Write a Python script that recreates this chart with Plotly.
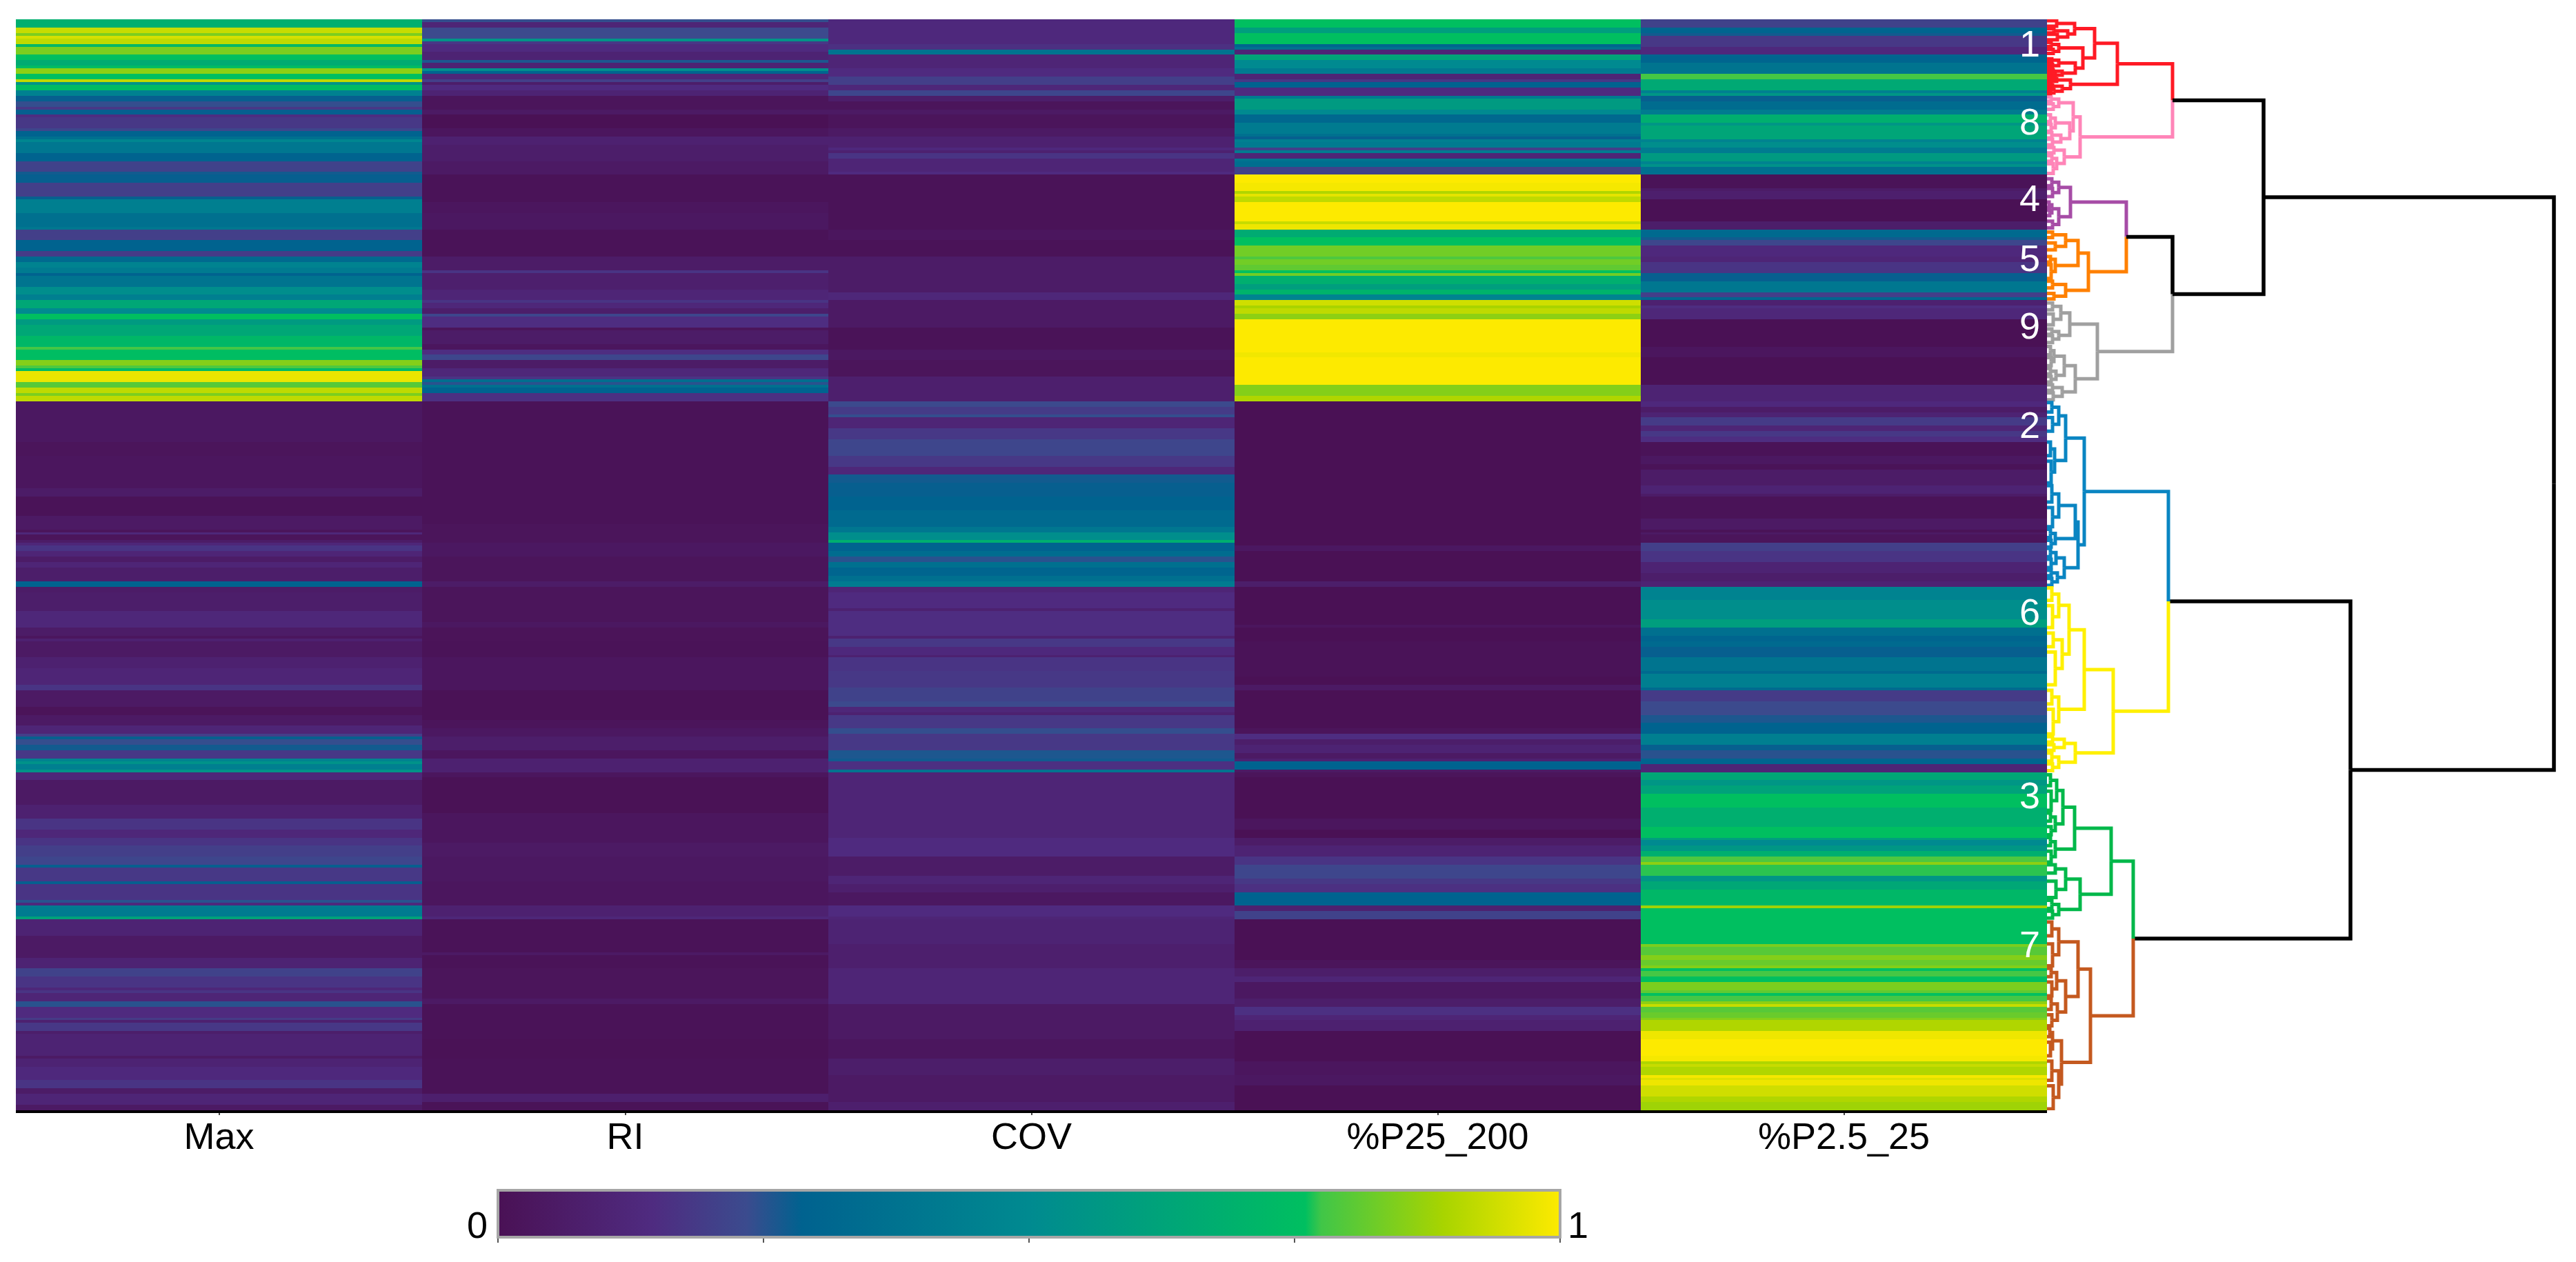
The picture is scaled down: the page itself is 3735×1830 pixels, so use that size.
import plotly.graph_objects as go

W, H = 3735, 1830
N_ROWS = 400
columns = ["Max", "RI", "COV", "%P25_200", "%P2.5_25"]

# each column: (value, row at which this value stops), read from top to bottom
max_runs = [(.68,3),(.93,5),(.84,6),(.95,7),(.92,9),(.72,10),(.84,13),(.76,15),(.66,17),(.74,18),(.86,20),(.76,22),(.92,23),(.55,24),(.74,26),(.45,28),(.28,30),(.24,32),(.18,33),(.28,35),(.15,36),(.18,40),(.22,41),(.29,43),(.36,44),(.48,45),(.40,49),(.29,52),(.21,56),(.27,57),(.28,60),(.20,65),(.28,66),(.44,71),(.36,76),(.40,77),(.2,81),(.29,85),(.19,87),(.33,89),(.46,91),(.42,93),(.29,94),(.38,98),(.52,101),(.44,103),(.64,106),(.5,108),(.76,110),(.58,112),(.64,116),(.72,120),(.78,121),(.75,125),(.85,127),(.79,128),(.74,129),(.975,133),(.8,135),(.92,137),(.84,138),(.92,140),
 (.04,155),(.02,160),(.03,172),(.06,175),(.01,182),(.05,187),(.02,188),(.12,189),(.02,191),(.06,192),(.12,193),(.17,195),(.11,197),(.06,199),(.11,201),(.07,206),(.29,208),(.06,210),(.07,217),(.12,223),(.06,226),(.03,227),(.09,228),
 (.05,234),(.09,238),(.11,244),(.17,246),(.05,252),(.015,255),(.05,259),(.11,262),(.2,263),(.28,264),(.24,266),(.27,268),(.18,271),(.46,272),(.54,273),(.44,275),(.55,276),(.12,279),(.05,288),(.09,293),(.17,297),(.12,300),(.17,303),(.2,307),(.22,310),(.28,311),(.18,316),(.28,317),(.17,323),(.25,324),(.13,325),(.42,329),(.62,330),(.1,336),(.05,344),(.1,348),(.21,351),(.17,355),(.12,356),(.17,357),(.11,360),(.25,362),(.14,366),(.19,367),(.09,368),(.18,371),(.07,372),(.1,380),(.05,381),(.1,384),(.13,389),(.17,392),(.06,394),(.11,398),(.05,400)]

ri_runs = [(.24,1),(.11,3),(.23,7),(.55,8),(.18,9),(.14,12),(.1,15),(.26,16),(.1,18),(.52,19),(.3,20),(.12,22),(.2,23),(.07,24),(.14,26),(.1,28),(.02,33),(.05,35),(.0,40),(.03,43),(.09,46),(.07,52),(.05,57),(.01,67),(.03,71),(.04,77),(.01,87),(.06,92),(.17,93),(.08,99),(.11,103),(.17,104),(.12,106),(.07,108),(.22,109),(.15,113),(.02,114),(.06,119),(.03,121),(.15,123),(.22,125),(.06,128),(.12,131),(.17,132),(.35,133),(.25,134),(.36,135),(.29,137),(.16,140),
 (.01,185),(.02,192),(.04,197),(.02,206),(.06,208),(.02,221),(.04,223),(.015,228),
 (.01,234),(.03,246),(.005,257),(.02,260),(.04,263),(.07,268),(.03,271),(.09,276),(.03,278),(.005,291),(.03,302),(.05,307),(.04,316),(.03,325),(.09,329),(.12,330),(.01,342),(.05,343),(.01,348),(.02,359),(.05,361),(.01,374),(.005,381),(.01,394),(.08,397),(.01,400)]

cov_runs = [(.13,9),(.16,11),(.38,13),(.11,18),(.14,21),(.20,24),(.12,26),(.22,28),(.07,30),(.02,33),(.05,35),(.02,40),(.05,43),(.09,47),(.13,48),(.09,49),(.17,51),(.11,56),(.14,57),(.01,77),(.03,81),(.01,87),(.06,100),(.12,103),(.05,113),(.01,121),(.04,125),(.02,131),(.08,140),
 (.23,142),(.19,145),(.24,146),(.11,150),(.18,154),(.22,160),(.18,164),(.12,167),(.27,170),(.28,175),(.29,180),(.33,186),(.40,188),(.52,191),(.68,192),(.29,195),(.34,197),(.25,199),(.36,201),(.3,204),(.36,206),(.42,208),(.11,210),(.14,216),(.09,217),(.15,226),(.09,227),(.18,228),
 (.18,230),(.13,233),(.09,234),(.17,239),(.18,245),(.21,250),(.23,252),(.12,254),(.09,255),(.18,260),(.24,262),(.18,268),(.26,271),(.27,272),(.16,275),(.38,276),(.11,300),(.14,307),(.06,314),(.11,317),(.08,320),(.04,325),(.14,329),(.11,330),(.1,339),(.08,348),(.11,361),(.05,374),(.03,381),(.07,387),(.05,397),(.08,400)]

p25_runs = [(.76,3),(.6,5),(.76,9),(.3,10),(.36,11),(.11,13),(.63,15),(.5,18),(.42,20),(.11,22),(.18,23),(.29,25),(.14,28),(.42,29),(.58,33),(.5,35),(.32,38),(.42,42),(.36,43),(.28,44),(.44,45),(.42,47),(.2,48),(.42,49),(.11,51),(.38,52),(.35,54),(.21,57),(1.0,60),(.99,63),(.9,64),(.97,65),(.92,67),(1.0,74),(.93,75),(.98,77),(.66,80),(.76,83),(.83,87),(.79,88),(.83,90),(.81,92),(.76,93),(.83,94),(.68,97),(.6,99),(.7,101),(.46,103),(.94,105),(.89,106),(.92,108),(.86,110),(1.0,122),(.985,124),(1.0,134),(.85,138),(.9,140),
 (.0,193),(.04,195),(.0,206),(.07,208),(.0,222),(.03,223),(.0,228),
 (.01,241),(.0,244),(.05,246),(.0,260),(.02,262),(.15,264),(.07,266),(.1,269),(.05,271),(.09,272),(.29,275),(.05,276),(.02,278),(.0,293),(.03,297),(.0,300),(.06,303),(.1,307),(.17,310),(.22,315),(.18,317),(.16,320),(.29,325),(.09,327),(.21,330),(.0,345),(.02,348),(.07,351),(.11,353),(.04,359),(.07,362),(.16,365),(.11,367),(.09,371),(.0,382),(.03,387),(.04,391),(.0,400)]

p2_runs = [(.21,3),(.3,5),(.27,6),(.18,10),(.13,13),(.3,16),(.38,20),(.78,22),(.65,26),(.45,27),(.56,28),(.28,30),(.34,33),(.42,35),(.68,38),(.56,39),(.63,44),(.46,45),(.52,47),(.42,49),(.58,52),(.46,53),(.54,54),(.36,57),(.01,62),(.06,63),(.08,66),(.0,74),(.07,77),(.33,80),(.27,81),(.22,83),(.13,87),(.11,89),(.17,93),(.28,96),(.4,100),(.2,102),(.3,103),(.09,105),(.15,106),(.12,110),(.0,120),(.03,124),(.0,134),(.1,140),
 (.13,142),(.06,144),(.1,146),(.19,149),(.11,151),(.18,153),(.15,155),(.01,160),(.04,163),(.01,165),(.06,171),(.1,174),(.06,175),(.01,183),(.05,187),(.01,188),(.05,189),(.02,192),(.2,195),(.17,199),(.1,203),(.07,206),(.1,208),(.46,213),(.52,220),(.6,223),(.36,226),(.3,228),
 (.33,230),(.28,234),(.38,239),(.33,240),(.44,245),(.33,246),(.19,250),(.23,255),(.26,258),(.29,262),(.44,266),(.28,268),(.25,271),(.3,273),(.11,276),(.64,279),(.56,281),(.62,284),(.76,289),(.68,296),(.76,300),(.6,301),(.5,303),(.56,305),(.68,307),(.79,309),(.86,310),(.77,314),(.56,316),(.64,319),(.72,325),(.88,326),(.76,339),(.84,340),(.8,343),(.85,345),(.82,347),(.85,348),(.76,349),(.78,351),(.76,353),(.84,356),(.81,357),(.76,358),(.78,360),(.86,361),(.93,362),(.8,364),(.82,366),(.85,367),(.9,371),(.98,374),(1.0,380),(.99,382),(.9,383),(.93,384),(.9,387),(.99,388),(.96,389),(.98,391),(.94,395),(.9,397),(.88,400)]

# dendrogram: (merge height, upper child, lower child); a bare number is a leaf row
red = (102,
       (69,
        (40, (14, .5, 2.5), (30, (10, 3.5, 5), (15, 5.5, 7.5))),
        (52, (17, (6, 8.5, 10), (9, 11, 12.5)),
         (41, (17, (7, 14.5, 15.5), (8, 16.5, 17.5)), (22, (9, 18.5, 19.5), (12, 20, 21))))),
       (34, (14, (5, 21.5, 22), (6, 22.5, 23)), (22, (8, 24, 25), (10, (4, 25.5, 26), (5, 26.5, 27.5)))))
pink = (48,
        (38, (17, (6, 28.5, 30), (9, 31, 33)),
         (33, (12, (5, 35, 37.5), (6, 38.5, 41)), (20, (7, 41.5, 43.5), (8, 44, 46)))),
        (25, (10, 47, 49), (14, (7, 50, 52), (9, 53, 56.5))))
purple = (34,
          (17, (7, 58.5, 61), (8, 62, 65)),
          (17, (7, (3, 67, 69), (4, 70, 72)), (8, 74, 76.5)))
orange = (60,
          (45, (27, (8, 78, 80), (12, 82, 84.5)), (12, (5, 87, 89), (6, 90, 95))),
          (27, (8, 96, 98.5), (10, 100.5, 102.5)))
grey = (73,
        (33, (20, (8, 104, 106.5), (9, 108, 112)), (17, (7, 113.5, 115.5), (8, 116, 118.5))),
        (41, (25, (10, (5, 120, 123), (6, 124, 127)), (13, (5, 128, 130), (6, 131, 133))),
         (22, (8, 134, 136), (9, 137, 139.5))))
blue = (54,
        (27, (17, (7, 140.5, 144), (8, 146, 151)), (11, (5, 155, 160), (6, 162, 170))),
        (45, (41, (17, (7, 171, 177), (8, 179, 186)), (12, (5, 187, 190), (6, 191, 193.5))),
         (25, (13, (5, 194, 197), (6, 198, 201)), (15, (6, 202, 204), (7, 205, 207.5)))))
yellow = (96,
          (54, (32, (17, (7, 208.5, 213), (8, 215, 223)), (22, (9, 225, 230), (12, 232, 244))),
           (17, (7, 246, 251), (9, 253, 262))),
          (41, (25, (8, 263, 265), (10, 266, 268)), (17, (7, 269, 272), (8, 273, 275.5))))
green = (93,
         (40, (23, (14, (5, 277, 281), (6, 283, 290)), (12, (5, 291, 294), (6, 296, 299))),
          (12, (5, 300, 303), (6, 305, 309))),
         (48, (27, (12, 310, 313), (13, 316, 322)), (17, (7, 323, 326), (8, 327, 329.5))))
brown = (63,
         (45, (17, (7, 331, 336), (8, 339, 347)),
          (27, (14, (6, 348, 351), (7, 353, 358)), (15, (6, 359, 363), (7, 365, 369)))),
         (21, (8, (4, 370, 373), (5, 375, 380)), (17, (7, 382, 389), (9, 391, 399.5))))

tree = (735,
        (314,
         (182, ("#ff1a25", red), ("#ff85b8", pink)),
         (182, (115, ("#a64ca6", purple), ("#ff8000", orange)), ("#a0a0a0", grey))),
        (440,
         (176, ("#0a85c2", blue), ("#fff000", yellow)),
         (125, ("#00b84a", green), ("#c4591f", brown))))

cluster_labels = ["1", "8", "4", "5", "9", "2", "6", "3", "7"]
cluster_label_rows = [8.9, 37.4, 65.5, 87.5, 112.3, 148.7, 217.2, 284.5, 339]

colorscale = [[0, "#4a1155"], [.145, "#4f2b80"], [.234, "#3b4b8e"], [.286, "#00628f"],
              [.5, "#008a90"], [.76, "#00bf60"], [.775, "#40c648"], [.89, "#a8d400"], [1, "#fdea00"]]


def expand(runs):
    out, start = [], 0
    for value, end in runs:
        out += [value] * (end - start)
        start = end
    assert start == N_ROWS
    return out


cols = [expand(r) for r in (max_runs, ri_runs, cov_runs, p25_runs, p2_runs)]
z = [list(row) for row in zip(*cols)]
row_centres = [i + .5 for i in range(N_ROWS)]

segments = {}


def walk(node, colour):
    if isinstance(node, (int, float)):
        return node, 0, colour
    if isinstance(node[0], str):
        return walk(node[1], node[0])
    height, upper, lower = node
    uy, uh, uc = walk(upper, colour)
    ly, lh, lc = walk(lower, colour)
    mid = (uy + ly) / 2
    for y, h, c in ((uy, uh, uc), (ly, lh, lc)):
        xs, ys = segments.setdefault(c, ([], []))
        xs += [height, height, h, None]
        ys += [mid, y, y, None]
    return mid, height, colour


walk(tree, "#000000")

fig = go.Figure()
fig.add_trace(go.Heatmap(
    z=z, x=columns, y=row_centres, zmin=0, zmax=1, colorscale=colorscale, hoverinfo="skip",
    colorbar=dict(orientation="h", xref="container", yref="container",
                  x=1492 / W, xanchor="center", y=1 - 1765 / H, yanchor="middle",
                  lenmode="pixels", len=1540, thicknessmode="pixels", thickness=68,
                  xpad=0, ypad=0, outlinecolor="#a6a6a6", outlinewidth=4,
                  tickvals=[0, .25, .5, .75, 1], showticklabels=False,
                  ticks="outside", ticklen=6, tickwidth=2, tickcolor="#555555"),
))
for colour, (xs, ys) in segments.items():
    fig.add_trace(go.Scatter(
        x=xs, y=ys, xaxis="x2", yaxis="y", mode="lines", hoverinfo="skip",
        line=dict(color=colour, width=5.5 if colour == "#000000" else 5), showlegend=False,
        cliponaxis=False,
    ))

FONT = "Liberation Sans"
annotations = [dict(x=4.458, y=r, xref="x", yref="y", text=t, showarrow=False,
                    xanchor="center", yanchor="middle",
                    font=dict(family=FONT, size=54, color="white"))
               for t, r in zip(cluster_labels, cluster_label_rows)]
annotations += [dict(x=692 / W, y=1 - 1776 / H, xref="paper", yref="paper", text="0", showarrow=False,
                     xanchor="center", yanchor="middle",
                     font=dict(family=FONT, size=54, color="black")),
                dict(x=2288 / W, y=1 - 1776 / H, xref="paper", yref="paper", text="1", showarrow=False,
                     xanchor="center", yanchor="middle",
                     font=dict(family=FONT, size=54, color="black"))]

fig.update_layout(
    width=W, height=H, margin=dict(l=0, r=0, t=0, b=0, autoexpand=False),
    paper_bgcolor="white", plot_bgcolor="white", showlegend=False,
    font=dict(family=FONT, size=54, color="black"),
    annotations=annotations,
    xaxis=dict(domain=[23 / W, 2968 / W], range=[-.5, 4.5], tickmode="array", tickvals=columns, ticktext=columns,
               anchor="y", showgrid=False, zeroline=False, showline=True, linecolor="black", linewidth=4,
               ticks="outside", ticklen=3, tickwidth=2, tickcolor="#444444", ticklabelstandoff=-16,
               tickfont=dict(family=FONT, size=54, color="black")),
    xaxis2=dict(domain=[2968 / W, 1], range=[0, 767], anchor="y", visible=False, showgrid=False, zeroline=False),
    yaxis=dict(domain=[1 - 1610 / H, 1 - 28 / H], range=[N_ROWS, 0], visible=False, showgrid=False, zeroline=False),
)
fig.write_html("out.html", config={"displayModeBar": False},
               post_script="document.body.style.margin='0';")
